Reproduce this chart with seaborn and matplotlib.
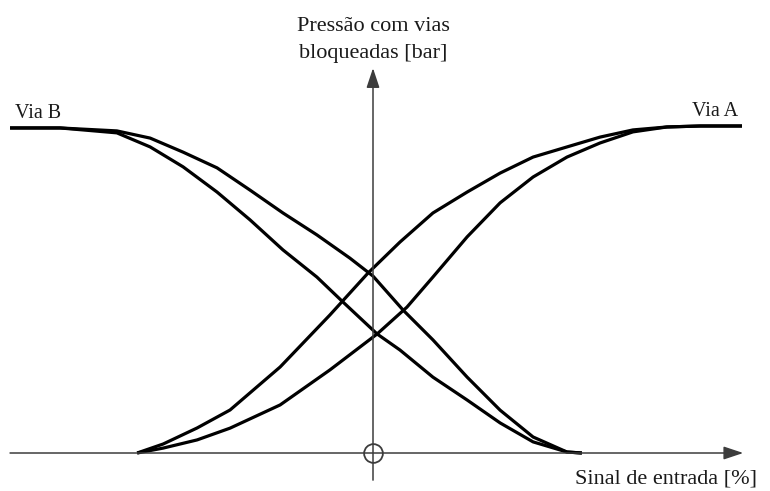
import matplotlib
matplotlib.use("Agg")
import matplotlib.pyplot as plt
import seaborn as sns
import pandas as pd

# Signal (%) and pressure (% of max) for each path, two branches each (hysteresis)
sinal_a_sup = [-74.4, -66.2, -55.5, -45.1, -29.3, -13.6, -1.6, 8.5, 18.9, 29.7,
               40.1, 50.5, 61.2, 71.6, 82.0, 92.7, 103.2, 116.4]
pressao_a_sup = [0, 2.75, 7.65, 13.15, 26.3, 42.2, 55.0, 64.5, 73.4, 79.8,
                 85.6, 90.5, 93.6, 96.6, 98.8, 99.7, 100, 100]

sinal_a_inf = [-74.4, -66.2, -55.5, -45.1, -29.3, -13.6, 1.3, 10.7, 18.9, 29.7,
               40.1, 50.5, 61.2, 71.6, 82.0, 92.7, 103.2, 116.4]
pressao_a_inf = [0, 1.5, 4.0, 7.6, 14.7, 25.4, 36.4, 44.6, 53.8, 66.1,
                 76.5, 84.4, 90.5, 94.8, 98.2, 99.7, 100, 100]

sinal_b_sup = [-114.5, -98.7, -80.8, -70.3, -59.9, -49.2, -38.8, -28.4, -17.7, -7.3,
               0.0, 9.5, 18.9, 29.7, 40.1, 50.5, 61.2, 65.9]
pressao_b_sup = [99.4, 99.4, 98.5, 96.3, 92.0, 87.2, 80.4, 73.4, 66.7, 59.6,
                 54.1, 43.7, 34.6, 23.2, 13.1, 4.9, 0.3, 0]

sinal_b_inf = [-114.5, -98.7, -80.8, -70.3, -59.9, -49.2, -38.8, -28.4, -17.7, -9.5,
               1.3, 8.5, 18.9, 29.7, 40.1, 50.5, 61.2, 65.9]
pressao_b_inf = [99.4, 99.4, 97.9, 93.6, 87.5, 79.8, 71.3, 62.1, 53.8, 46.2,
                 36.4, 31.5, 23.2, 16.2, 9.2, 3.4, 0.3, 0]

rotulo_x = "Sinal de entrada [%]"
rotulo_y = ["Pressão com vias", "bloqueadas [bar]"]
rotulo_a = "Via A"
rotulo_b = "Via B"

sns.set_theme(style="white")
plt.rcParams["font.family"] = ["Liberation Serif", "DejaVu Serif"]

fig = plt.figure(figsize=(7.7, 4.91), dpi=100)
ax = fig.add_axes([0, 0, 1, 1])
ax.set_xlim(-117.67, 125.24)
ax.set_ylim(-11.62, 138.53)
ax.axis("off")

curvas = [
    ("A_sup", sinal_a_sup, pressao_a_sup),
    ("A_inf", sinal_a_inf, pressao_a_inf),
    ("B_sup", sinal_b_sup, pressao_b_sup),
    ("B_inf", sinal_b_inf, pressao_b_inf),
]
for nome, xs, ys in curvas:
    df = pd.DataFrame({"sinal": xs, "pressao": ys})
    sns.lineplot(data=df, x="sinal", y="pressao", ax=ax, sort=False,
                 estimator=None, color="black", lw=2.3,
                 solid_joinstyle="round", solid_capstyle="butt")

eixo_cor = "#3c3c3c"
seta = dict(arrowstyle="-|>,head_length=0.6,head_width=0.2", mutation_scale=20,
            color="black", lw=1.1, shrinkA=0, shrinkB=0)
seta_x = dict(seta, color=eixo_cor)
# horizontal axis (signal)
ax.annotate("", xy=(116.8, 0), xytext=(-114.5, 0), arrowprops=seta_x)
# vertical axis (pressure)
ax.annotate("", xy=(0, 117.7), xytext=(0, -8.3), arrowprops=seta_x)
# origin marker
ax.plot([0], [0], marker="o", ms=13.5, mfc="none", mec=eixo_cor, mew=1.3)

cor_txt = "#1a1a1a"
ax.text(0, 128.9, rotulo_y[0], ha="center", va="baseline", fontsize=16, color=cor_txt)
ax.text(0, 120.8, rotulo_y[1], ha="center", va="baseline", fontsize=16, color=cor_txt)
ax.text(63.7, -9.2, rotulo_x, ha="left", va="baseline", fontsize=16, color=cor_txt)
ax.text(-112.9, 102.4, rotulo_b, ha="left", va="baseline", fontsize=14.5, color=cor_txt)
ax.text(115.1, 103.1, rotulo_a, ha="right", va="baseline", fontsize=14.5, color=cor_txt)

fig.savefig("out.png", dpi=100, facecolor="white")
